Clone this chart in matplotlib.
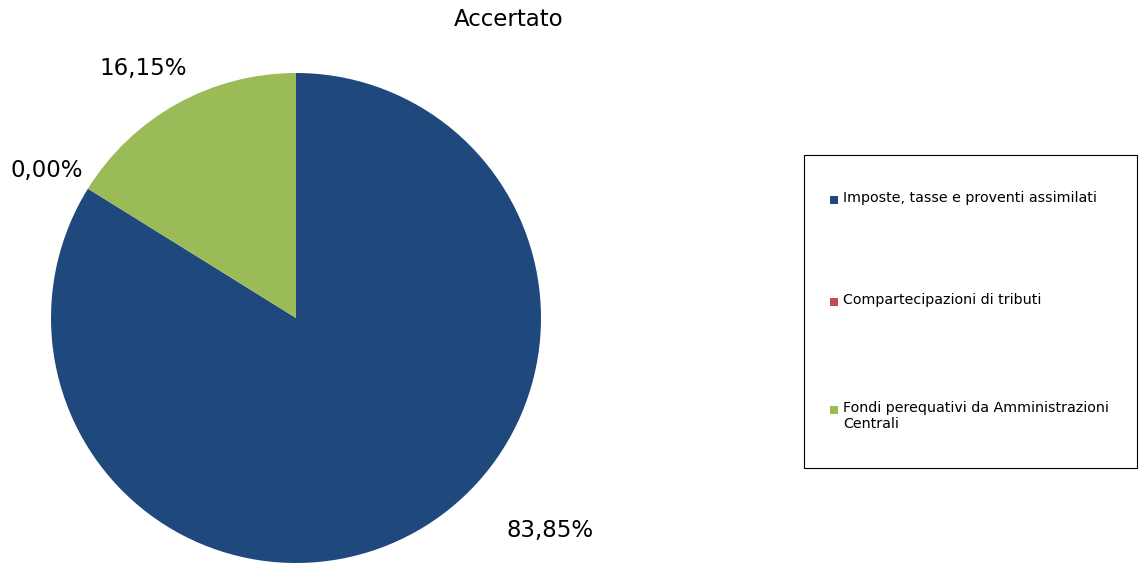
import matplotlib
matplotlib.use("Agg")
import matplotlib.pyplot as plt
from matplotlib.patches import Rectangle

categories = ["Imposte, tasse e proventi assimilati",
              "Compartecipazioni di tributi",
              "Fondi perequativi da Amministrazioni\nCentrali"]
values = [83.85, 0.00, 16.15]
labels = ["83,85%", "0,00%", "16,15%"]
colors = ["#1F497D", "#C0504D", "#9BBB59"]

W, H = 1139, 563
fig = plt.figure(figsize=(W / 100, H / 100), dpi=100)
plt.rcParams['font.family'] = ['DejaVu Sans']

cx, cy, r = 296, 318, 245
ax = fig.add_axes([(cx - r) / W, (H - cy - r) / H, 2 * r / W, 2 * r / H])
ax.pie(values, colors=colors, startangle=90, counterclock=False,
       radius=1, wedgeprops=dict(linewidth=0))
ax.set_xlim(-1, 1)
ax.set_ylim(-1, 1)
ax.set_aspect('equal')
ax.axis('off')

# data labels (figure pixel positions of label centres)
label_pos = [(550, 530), (47, 170), (143, 68)]
for (px, py), t in zip(label_pos, labels):
    fig.text(px / W, 1 - py / H, t, ha='center', va='center', fontsize=16.5, color='black')

fig.text(509 / W, 1 - 20 / H, "Accertato", ha='center', va='center', fontsize=16.5)

# legend box
lx0, lx1, ly0, ly1 = 804, 1137, 155, 468
fig.patches.append(Rectangle((lx0 / W, 1 - ly1 / H), (lx1 - lx0) / W, (ly1 - ly0) / H,
                             transform=fig.transFigure, fill=False, edgecolor='black', linewidth=0.8))
entry_y = [200, 302, 410]
for y, c, name in zip(entry_y, colors, categories):
    fig.patches.append(Rectangle((830 / W, 1 - (y + 4) / H), 8 / W, 8 / H,
                                 transform=fig.transFigure, facecolor=c, edgecolor='none'))
    fig.text(843 / W, 1 - (y - 9) / H, name, ha='left', va='top', fontsize=10.3,
             linespacing=1.2)

fig.savefig("out.png", dpi=100)
